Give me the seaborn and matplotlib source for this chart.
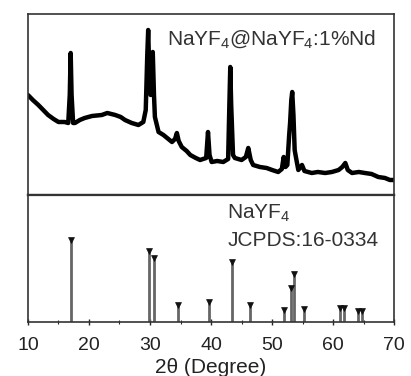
import seaborn as sns
import matplotlib.pyplot as plt
import pandas as pd
import numpy as np

# XRD pattern of the sample (2theta, intensity a.u.)
two_theta = [10.0, 10.8, 11.7, 12.5, 13.3, 14.2, 15.0, 16.0, 16.6, 16.85, 17.0, 17.15, 17.4,
             17.7, 18.5, 19.3, 20.5, 22.1, 23.0, 24.3, 25.2, 25.9, 27.0, 28.1, 28.9, 29.3,
             29.55, 29.7, 29.85, 30.1, 30.3, 30.45, 30.65, 30.8, 31.4, 32.2, 32.8, 33.6, 34.1,
             34.4, 34.7, 35.2, 36.0, 36.6, 37.5, 38.2, 39.2, 39.5, 39.75, 40.1, 41.0, 42.0,
             42.8, 43.0, 43.15, 43.3, 43.6, 43.9, 45.0, 45.7, 46.1, 46.5, 46.9, 48.0, 49.1,
             50.0, 51.0, 51.6, 51.9, 52.2, 52.5, 52.8, 52.95, 53.15, 53.3, 53.5, 53.7, 53.9,
             54.3, 54.9, 55.3, 56.5, 57.5, 58.7, 59.8, 60.9, 61.5, 62.0, 62.4, 63.1, 64.2,
             65.2, 66.3, 67.4, 68.5, 69.3, 70.0]
intensity = [100, 95, 90, 85, 80, 76, 73, 73, 72, 100, 142, 100, 72,
             72, 75, 77, 79, 80, 82, 80, 78, 75, 72, 70, 73, 85,
             140, 165, 130, 100, 135, 143, 100, 78, 63, 60, 57, 53, 56,
             62, 54, 48, 44, 40, 37, 35, 37, 63, 40, 33, 34, 33,
             36, 90, 128, 90, 40, 37, 35, 38, 47, 35, 30, 28, 27,
             25, 23, 26, 38, 28, 30, 60, 72, 95, 103, 80, 45, 38,
             25, 30, 24, 22, 23, 22, 23, 25, 28, 32, 25, 22, 23,
             22, 21, 18, 17, 15, 15]

# JCPDS 16-0334 reference lines
ref_pos = [17.0, 29.85, 30.7, 34.65, 39.6, 43.45, 46.4, 52.0, 53.1, 53.65, 55.25,
           61.15, 61.8, 64.0, 64.8]
ref_int = [100, 87, 78, 21, 24, 73, 21, 15, 41, 59, 16, 17, 17, 13, 13]

pattern = pd.DataFrame({"two_theta": two_theta, "intensity": intensity})
ref = pd.DataFrame({"pos": ref_pos, "int": ref_int})

sns.set_style("white")
plt.rcParams["font.family"] = ["Liberation Sans", "DejaVu Sans"]
plt.rcParams["mathtext.fontset"] = "custom"
plt.rcParams["mathtext.rm"] = "Liberation Sans"
plt.rcParams["mathtext.it"] = "Liberation Sans:italic"

fig = plt.figure(figsize=(4.11, 3.76), dpi=100)
ax1 = fig.add_axes([0.068, 0.4814, 0.891, 0.4814])
ax2 = fig.add_axes([0.068, 0.1436, 0.891, 0.3378], sharex=ax1)

# top: measured pattern
sns.lineplot(data=pattern, x="two_theta", y="intensity", ax=ax1,
             color="black", linewidth=3.2)
ax1.set_ylim(0, 181)
ax1.set_xlim(10, 70)
ax1.set_yticks([])
ax1.tick_params(axis="x", bottom=False, labelbottom=False)
ax1.set_xlabel("")
ax1.set_ylabel("")
ax1.text(0.38, 0.862, "NaYF$_4$@NaYF$_4$:1%Nd", transform=ax1.transAxes,
         ha="left", va="center", fontsize=15, color="#333333")

# bottom: standard card sticks
ax2.vlines(ref["pos"], 0, ref["int"], color="#666666", linewidth=2)
sns.scatterplot(data=ref, x="pos", y="int", ax=ax2, marker="v", s=18,
                color="#111111", edgecolor="#111111", linewidth=0.5, zorder=3)
ax2.set_ylim(0, 155)
ax2.set_yticks([])
ax2.set_xticks([10, 20, 30, 40, 50, 60, 70])
ax2.set_xticks([15, 25, 35, 45, 55, 65], minor=True)
ax2.tick_params(axis="x", which="major", direction="inout", length=5, width=1,
                labelsize=14, pad=8, bottom=True, labelcolor="#222222")
ax2.tick_params(axis="x", which="minor", direction="inout", length=3, width=0.8, bottom=True)
ax2.set_xlabel("2\u03b8 (Degree)", fontsize=15, labelpad=3, color="#222222")
ax2.set_ylabel("")
ax2.text(0.544, 0.854, "NaYF$_4$", transform=ax2.transAxes,
         ha="left", va="center", fontsize=15, color="#333333")
ax2.text(0.544, 0.642, "JCPDS:16-0334", transform=ax2.transAxes,
         ha="left", va="center", fontsize=15, color="#333333")

for ax in (ax1, ax2):
    for sp in ax.spines.values():
        sp.set_color("#333333")
        sp.set_linewidth(1.2)
ax1.spines["bottom"].set_linewidth(1.6)
ax2.spines["top"].set_linewidth(1.6)

plt.savefig("out.png", dpi=100)
plt.close()
